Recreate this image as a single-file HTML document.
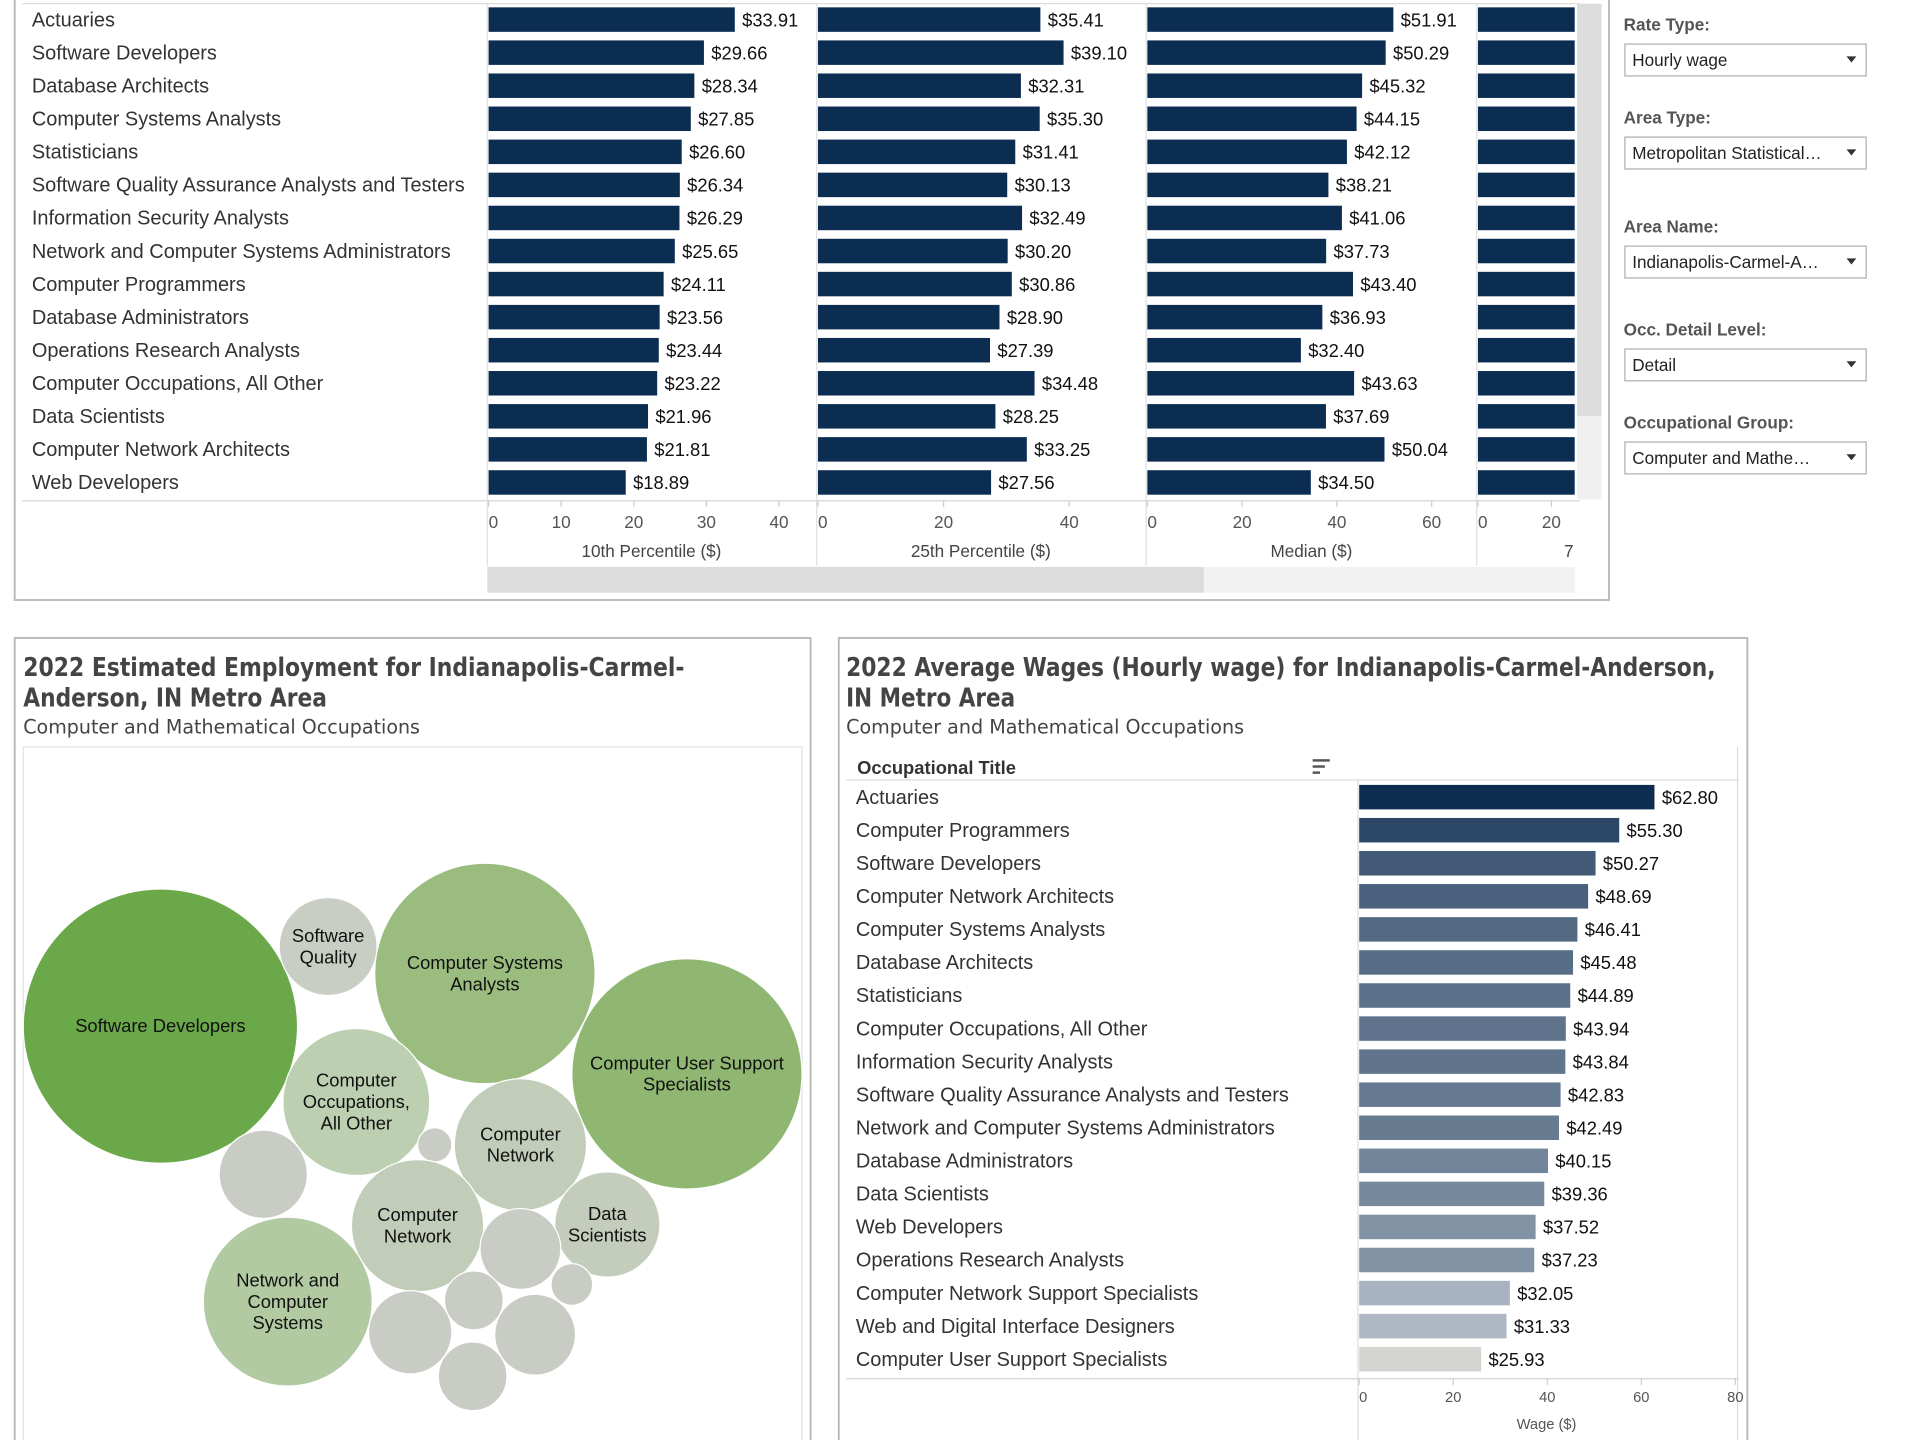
<!DOCTYPE html>
<html><head><meta charset="utf-8">
<style>
html,body{margin:0;padding:0;background:#fff;width:1920px;height:1440px;overflow:hidden}
svg{display:block}
text{font-family:"Liberation Sans",sans-serif}
.t{font-family:"DejaVu Sans Condensed","DejaVu Sans",sans-serif;font-stretch:condensed}
</style></head><body>
<svg id="s" width="1920" height="1440" viewBox="0 0 1568 1176" preserveAspectRatio="none" xmlns="http://www.w3.org/2000/svg"></svg>
<script>
// ---- Top chart data ----
const topOccupations=["Actuaries","Software Developers","Database Architects","Computer Systems Analysts","Statisticians","Software Quality Assurance Analysts and Testers","Information Security Analysts","Network and Computer Systems Administrators","Computer Programmers","Database Administrators","Operations Research Analysts","Computer Occupations, All Other","Data Scientists","Computer Network Architects","Web Developers"];
const p10=[33.91,29.66,28.34,27.85,26.60,26.34,26.29,25.65,24.11,23.56,23.44,23.22,21.96,21.81,18.89];
const p25=[35.41,39.10,32.31,35.30,31.41,30.13,32.49,30.20,30.86,28.90,27.39,34.48,28.25,33.25,27.56];
const median=[51.91,50.29,45.32,44.15,42.12,38.21,41.06,37.73,43.40,36.93,32.40,43.63,37.69,50.04,34.50];
const p75=[70.2,62.1,56.8,54.0,52.3,47.1,50.2,46.0,55.9,45.2,40.1,52.8,48.3,62.5,43.0];
const p10Ticks=[0,10,20,30,40];
const p25Ticks=[0,20,40];
const medTicks=[0,20,40,60];
const p75Ticks=[0,20];
// ---- Bubble data ----
const bubbleNames=["Software Developers","Software Quality","Computer Systems Analysts","Computer User Support Specialists","Computer Occupations, All Other","Computer Network Architects","Other A","Other B","Computer Network Support","Data Scientists","Other C","Other D","Network and Computer Systems","Other E","Other F","Other G","Other H"];
const bubbleLabels=[["Software Developers"],["Software","Quality"],["Computer Systems","Analysts"],["Computer User Support","Specialists"],["Computer","Occupations,","All Other"],["Computer","Network"],[],[],["Computer","Network"],["Data","Scientists"],[],[],["Network and","Computer","Systems"],[],[],[],[]];
const employment=[7770,991,5017,5473,2230,1806,121,804,1806,1145,675,179,2949,357,717,675,487];
// ---- Average wage data ----
const avgOccupations=["Actuaries","Computer Programmers","Software Developers","Computer Network Architects","Computer Systems Analysts","Database Architects","Statisticians","Computer Occupations, All Other","Information Security Analysts","Software Quality Assurance Analysts and Testers","Network and Computer Systems Administrators","Database Administrators","Data Scientists","Web Developers","Operations Research Analysts","Computer Network Support Specialists","Web and Digital Interface Designers","Computer User Support Specialists"];
const avgWage=[62.80,55.30,50.27,48.69,46.41,45.48,44.89,43.94,43.84,42.83,42.49,40.15,39.36,37.52,37.23,32.05,31.33,25.93];
const wageTicks=[0,20,40,60,80];

const NS="http://www.w3.org/2000/svg";
const S=document.getElementById('s');
function el(tag,attrs,parent,txt){const e=document.createElementNS(NS,tag);for(const k in attrs)e.setAttribute(k,attrs[k]);if(txt!==undefined)e.textContent=txt;(parent||S).appendChild(e);return e;}
function g(name){const e=el('g',{});return e;}

// ===== Top panel =====
const topPanel=g('percentile-panel');
el('rect',{x:12,y:-2,width:1302,height:492,fill:'#fff',stroke:'#b8b8b8','stroke-width':1.5},topPanel);
el('rect',{x:1288,y:3,width:20,height:337,fill:'#dcdcdc'},topPanel);
el('rect',{x:1288,y:340,width:20,height:68,fill:'#f0f0f0'},topPanel);
el('rect',{x:398,y:463,width:888,height:21,fill:'#f2f2f2'},topPanel);
const thumb=el('rect',{x:398,y:463,width:585,height:21,fill:'#dcdcdc'},topPanel);


el('line',{x1:18,y1:3,x2:1290,y2:3,stroke:'#ddd'},topPanel);
el('line',{x1:18,y1:409,x2:1290,y2:409,stroke:'#d0d0d0'},topPanel);
[398,667,936,1206].forEach(x=>el('line',{x1:x,y1:3,x2:x,y2:462,stroke:'#e0e0e0'},topPanel));
const rowY=i=>16+27*i;
topOccupations.forEach((n,i)=>{
  const t=el('text',{x:26,y:rowY(i)+5.5,'font-size':16.3,fill:'#333'},topPanel,n);
  
  
});
const cols=[
 {name:'10th Percentile ($)',x0:399,k:5.93,vals:p10,ticks:p10Ticks,end:664,title:532},
 {name:'25th Percentile ($)',x0:668,k:5.13,vals:p25,ticks:p25Ticks,end:933,title:801},
 {name:'Median ($)',x0:937,k:3.87,vals:median,ticks:medTicks,end:1203,title:1071},
 {name:'7',x0:1207,k:3.0,vals:p75,ticks:p75Ticks,end:1286,title:1285}
];
cols.forEach((c,ci)=>{
  const cg=g('column-'+ci);
  const xs=v=>c.x0+v*c.k;
  c.vals.forEach((v,i)=>{
    const w=Math.min(xs(v),c.end)-c.x0;
    const b=el('rect',{x:c.x0,y:rowY(i)-10,width:w,height:20,fill:'#0c2d52'},cg);
    
    
    if(xs(v)+60<c.end){
      const l=el('text',{x:xs(v)+6,y:rowY(i)+5.5,'font-size':15,fill:'#111'},cg,'$'+v.toFixed(2));
      
      
    }
  });
  c.ticks.forEach(t=>{
    el('line',{x1:xs(t),y1:409,x2:xs(t),y2:414,stroke:'#ccc'},cg);
    const tl=el('text',{x:xs(t),y:431,'font-size':14,fill:'#555','text-anchor':t===0?'start':'middle'},cg,String(t));
    
    
  });
  const at=el('text',{x:c.title,y:455,'font-size':14,fill:'#444','text-anchor':ci===3?'end':'middle'},cg,c.name);
  
  
});

// ===== Filters =====
const filters=[["Rate Type:","Hourly wage",20],["Area Type:","Metropolitan Statistical…",96],["Area Name:","Indianapolis-Carmel-A…",185],["Occ. Detail Level:","Detail",269],["Occupational Group:","Computer and Mathe…",345]];
filters.forEach(f=>{
  const fg=g('filter');
  const lb=el('text',{x:1326,y:f[2]+5,'font-size':14,'font-weight':'bold',fill:'#555'},fg,f[0]);
  
  
  const dd=el('rect',{x:1327,y:f[2]+16,width:197,height:26,fill:'#fff',stroke:'#bbb','stroke-width':1.2},fg);
  
  
  el('text',{x:1333,y:f[2]+34,'font-size':14,fill:'#222'},fg,f[1]);
  el('path',{d:`M1508 ${f[2]+26} l8 0 l-4 5 z`,fill:'#333'},fg);
});

// ===== Bubble panel =====
const bp=g('employment-panel');
el('rect',{x:12,y:521,width:650,height:670,fill:'#fff',stroke:'#b8b8b8','stroke-width':1.5},bp);
const bt1=el('text',{x:19,y:552,'font-size':21,'font-weight':'bold',fill:'#444',class:'t',textLength:540,lengthAdjust:'spacingAndGlyphs'},bp,'2022 Estimated Employment for Indianapolis-Carmel-');


el('text',{x:19,y:577,'font-size':21,'font-weight':'bold',fill:'#444',class:'t',textLength:248,lengthAdjust:'spacingAndGlyphs'},bp,'Anderson, IN Metro Area');
el('text',{x:19,y:599,'font-size':16,fill:'#444',class:'t',textLength:324,lengthAdjust:'spacingAndGlyphs'},bp,'Computer and Mathematical Occupations');
el('rect',{x:19,y:610,width:636,height:580,fill:'#fff',stroke:'#e2e2e2'},bp);
const bubbleCx=[131,268,396,561,291,425,355,215,341,496,425,467,235,387,335,437,386];
const bubbleCy=[838,773,795,877,900,935,935,959,1001,1000,1020,1049,1063,1062,1088,1090,1124];
const bubbleFill=["#6aa84a","#c9cec4","#9abd7f","#8fb771","#bccfb1","#c1cdb9","#c8ccc4","#c8ccc4","#c1cdb9","#c4cdbc","#c8ccc4","#c8ccc4","#b1caa1","#c8ccc4","#c8ccc4","#c8ccc4","#c8ccc4"];
const rScale=v=>112*Math.sqrt(v/7770);
employment.forEach((v,i)=>{
  const c=el('circle',{cx:bubbleCx[i],cy:bubbleCy[i],r:rScale(v),fill:bubbleFill[i],stroke:'#fff','stroke-width':1},bp);
  
  
  const L=bubbleLabels[i];
  L.forEach((s,j)=>{
    el('text',{x:bubbleCx[i],y:bubbleCy[i]+5+(j-(L.length-1)/2)*17.5,'font-size':15,fill:'#111','text-anchor':'middle'},bp,s);
  });
});

// ===== Average wage panel =====
const ap=g('average-wage-panel');
el('rect',{x:685,y:521,width:742,height:670,fill:'#fff',stroke:'#b8b8b8','stroke-width':1.5},ap);
const at1=el('text',{x:691,y:552,'font-size':21,'font-weight':'bold',fill:'#444',class:'t',textLength:710,lengthAdjust:'spacingAndGlyphs'},ap,'2022 Average Wages (Hourly wage) for Indianapolis-Carmel-Anderson,');


el('text',{x:691,y:577,'font-size':21,'font-weight':'bold',fill:'#444',class:'t',textLength:138,lengthAdjust:'spacingAndGlyphs'},ap,'IN Metro Area');
el('text',{x:691,y:599,'font-size':16,fill:'#444',class:'t',textLength:325,lengthAdjust:'spacingAndGlyphs'},ap,'Computer and Mathematical Occupations');
const hd=el('text',{x:700,y:632,'font-size':15,'font-weight':'bold',fill:'#333'},ap,'Occupational Title');


const si=g('sort-icon');
[[1072,620,14],[1072,625,10],[1072,630,6]].forEach(a=>el('rect',{x:a[0],y:a[1],width:a[2],height:2,fill:'#555'},si));
el('line',{x1:691,y1:637,x2:1420,y2:637,stroke:'#ddd'},ap);
el('line',{x1:1109,y1:637,x2:1109,y2:1176,stroke:'#ddd'},ap);
el('line',{x1:1419,y1:610,x2:1419,y2:1176,stroke:'#ddd'},ap);
el('line',{x1:691,y1:1126,x2:1420,y2:1126,stroke:'#d0d0d0'},ap);
const wx=v=>1110+v*3.84;
const wy=i=>651+27*i;
function lerp(a,b,t){return a.map((x,k)=>Math.round(x+(b[k]-x)*t));}
function wageColor(v){
  const lo=[212,212,208],mid=[168,180,194],hi=[13,44,79];
  const rgb=v<32?lerp(lo,mid,Math.max(0,(v-25.93)/(32-25.93))):lerp(mid,hi,Math.min(1,Math.pow((v-32)/(62.8-32),0.8)));
  return `rgb(${rgb.join(',')})`;
}
avgOccupations.forEach((n,i)=>{
  const l=el('text',{x:699,y:wy(i)+5.5,'font-size':16.3,fill:'#333'},ap,n);
  
  
  const b=el('rect',{x:1110,y:wy(i)-10,width:wx(avgWage[i])-1110,height:20,fill:wageColor(avgWage[i])},ap);
  
  
  const vl=el('text',{x:wx(avgWage[i])+6,y:wy(i)+5.5,'font-size':15,fill:'#111'},ap,'$'+avgWage[i].toFixed(2));
  
  
});
wageTicks.forEach(t=>{
  el('line',{x1:wx(t),y1:1126,x2:wx(t),y2:1131,stroke:'#ccc'},ap);
  const tl=el('text',{x:wx(t),y:1145,'font-size':12,fill:'#555','text-anchor':t===0?'start':'middle'},ap,String(t));
  
  
});
const wt=el('text',{x:1263,y:1167,'font-size':12,fill:'#555','text-anchor':'middle'},ap,'Wage ($)');


</script>
</body></html>
